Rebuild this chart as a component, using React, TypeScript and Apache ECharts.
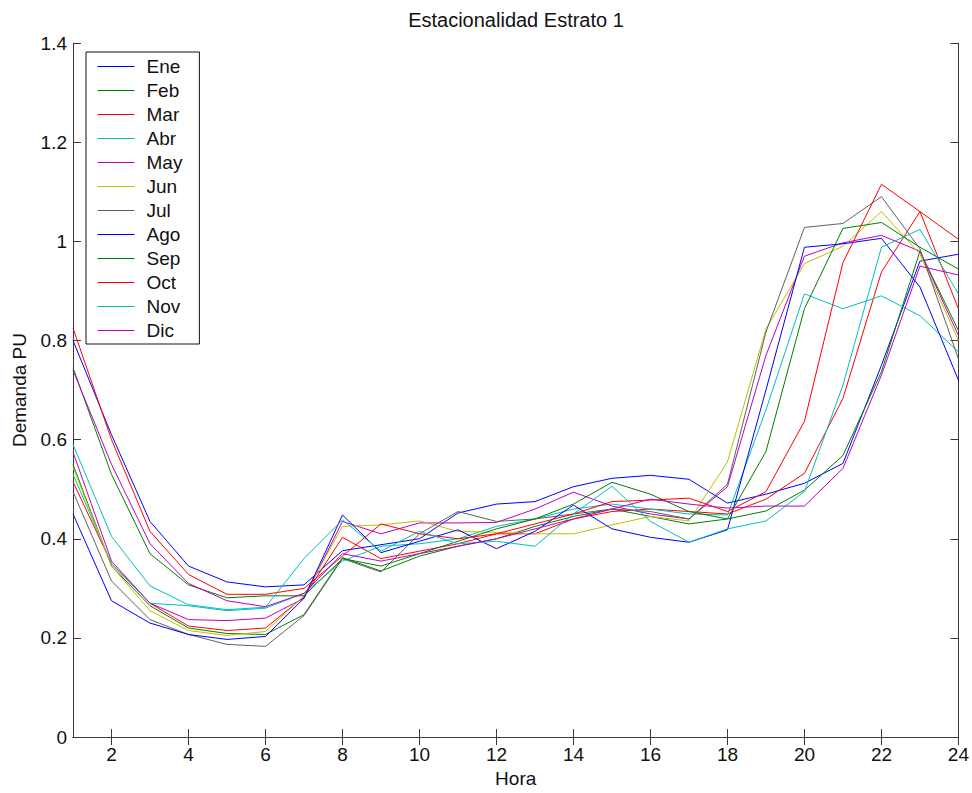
import React, { useEffect, useRef } from "react";
import * as echarts from "echarts";

// Hourly demand per unit, one curve per month
const hours = Array.from({ length: 24 }, (_, i) => String(i + 1));

const months = ["Ene", "Feb", "Mar", "Abr", "May", "Jun", "Jul", "Ago", "Sep", "Oct", "Nov", "Dic"];

const ene = [0.8, 0.61, 0.435, 0.345, 0.313, 0.303, 0.307, 0.376, 0.388, 0.4, 0.452, 0.47, 0.475, 0.505, 0.522, 0.528, 0.52, 0.472, 0.49, 0.512, 0.552, 0.75, 0.96, 0.974];
const feb = [0.55, 0.345, 0.265, 0.22, 0.209, 0.207, 0.247, 0.362, 0.335, 0.365, 0.385, 0.4, 0.425, 0.445, 0.46, 0.445, 0.43, 0.44, 0.456, 0.498, 0.568, 0.737, 0.98, 0.82];
const mar = [0.515, 0.35, 0.27, 0.224, 0.215, 0.22, 0.283, 0.403, 0.36, 0.375, 0.39, 0.41, 0.41, 0.44, 0.455, 0.46, 0.455, 0.45, 0.48, 0.532, 0.683, 0.938, 1.06, 0.864];
const abr = [0.53, 0.35, 0.27, 0.265, 0.255, 0.26, 0.29, 0.355, 0.385, 0.39, 0.4, 0.425, 0.44, 0.46, 0.47, 0.46, 0.45, 0.448, 0.66, 0.894, 0.864, 0.89, 0.85, 0.777];
const may = [0.575, 0.355, 0.27, 0.237, 0.235, 0.24, 0.28, 0.435, 0.41, 0.432, 0.432, 0.433, 0.46, 0.494, 0.466, 0.45, 0.44, 0.505, 0.77, 0.97, 0.997, 1.012, 0.98, 0.81];
const jun = [0.545, 0.345, 0.255, 0.215, 0.205, 0.213, 0.285, 0.425, 0.428, 0.436, 0.415, 0.413, 0.41, 0.41, 0.428, 0.445, 0.436, 0.555, 0.823, 0.955, 0.99, 1.06, 0.974, 0.8];
const jul = [0.495, 0.315, 0.237, 0.207, 0.187, 0.183, 0.245, 0.36, 0.333, 0.41, 0.455, 0.435, 0.44, 0.45, 0.46, 0.455, 0.44, 0.51, 0.817, 1.028, 1.036, 1.09, 0.985, 0.763];
const ago = [0.45, 0.275, 0.23, 0.207, 0.197, 0.203, 0.28, 0.448, 0.372, 0.395, 0.418, 0.38, 0.415, 0.468, 0.42, 0.403, 0.393, 0.418, 0.7, 0.988, 0.995, 1.006, 0.908, 0.72];
const sep = [0.745, 0.53, 0.37, 0.307, 0.281, 0.285, 0.285, 0.36, 0.345, 0.37, 0.395, 0.42, 0.44, 0.47, 0.514, 0.49, 0.455, 0.44, 0.576, 0.864, 1.026, 1.038, 0.988, 0.944];
const oct = [0.825, 0.6, 0.415, 0.328, 0.288, 0.288, 0.3, 0.365, 0.43, 0.41, 0.4, 0.41, 0.43, 0.45, 0.475, 0.478, 0.482, 0.455, 0.495, 0.637, 0.957, 1.115, 1.06, 1.004];
const nov = [0.59, 0.405, 0.305, 0.267, 0.257, 0.262, 0.36, 0.438, 0.375, 0.415, 0.39, 0.395, 0.385, 0.45, 0.506, 0.435, 0.393, 0.42, 0.436, 0.495, 0.71, 0.988, 1.024, 0.894];
const dic = [0.74, 0.55, 0.39, 0.31, 0.275, 0.263, 0.29, 0.37, 0.355, 0.37, 0.385, 0.4, 0.42, 0.44, 0.46, 0.48, 0.47, 0.462, 0.466, 0.466, 0.542, 0.73, 0.95, 0.932];

const monthValues = [ene, feb, mar, abr, may, jun, jul, ago, sep, oct, nov, dic];

// Classic plot colour cycle: b, g, r, c, m, y, k
const cycle = ["#0000ff", "#008000", "#ff0000", "#00bfbf", "#bf00bf", "#bfbf00", "#606060"];

const yTicks = { min: 0, max: 1.4, interval: 0.2 };

const FONT = "'Liberation Sans', Arial, Helvetica, sans-serif";
const AXIS_COLOR = "#3a3a3a";

export default function App() {
  const ref = useRef<HTMLDivElement>(null);

  useEffect(() => {
    document.body.style.margin = "0";
    if (!ref.current) return;
    const chart = echarts.init(ref.current, null, { renderer: "svg" });

    const evenHour = (idx: number) => idx % 2 === 1;

    const baseX = {
      type: "category" as const,
      data: hours,
      boundaryGap: false,
      axisLine: { show: true, lineStyle: { color: AXIS_COLOR, width: 1 } },
      axisTick: { show: true, inside: true, length: 8, interval: evenHour, lineStyle: { color: AXIS_COLOR } },
      splitLine: { show: false },
    };

    const baseY = {
      type: "value" as const,
      min: yTicks.min,
      max: yTicks.max,
      interval: yTicks.interval,
      axisLine: { show: true, lineStyle: { color: AXIS_COLOR, width: 1 } },
      axisTick: { show: true, inside: true, length: 8, lineStyle: { color: AXIS_COLOR } },
      splitLine: { show: false },
    };

    chart.setOption({
      animation: false,
      backgroundColor: "#ffffff",
      title: {
        text: "Estacionalidad Estrato 1",
        left: 511,
        top: 5,
        textAlign: "center",
        textStyle: { fontFamily: FONT, fontSize: 20, fontWeight: "normal", color: "#111" },
      },
      grid: { left: 73, right: 12, top: 43, bottom: 53, containLabel: false },
      legend: {
        orient: "vertical",
        left: 86,
        top: 52,
        data: months,
        itemWidth: 37,
        itemHeight: 13,
        itemGap: 5,
        padding: [5, 17, 4, 11],
        borderColor: "#111",
        borderWidth: 1,
        borderRadius: 0,
        backgroundColor: "#ffffff",
        selectedMode: false,
        // keep only the line sample, hide the marker in the middle of it
        itemStyle: { opacity: 0 },
        lineStyle: { width: 1 },
        textStyle: { fontFamily: FONT, fontSize: 19, lineHeight: 19, color: "#111", padding: [0, 0, 0, 7] },
      },
      xAxis: [
        {
          ...baseX,
          position: "bottom",
          name: "Hora",
          nameLocation: "middle",
          nameGap: 26,
          nameTextStyle: { fontFamily: FONT, fontSize: 19, color: "#111" },
          axisLabel: { show: true, interval: evenHour, margin: 8, fontFamily: FONT, fontSize: 19, color: "#111" },
        },
        { ...baseX, position: "top", axisLabel: { show: false } },
      ],
      yAxis: [
        {
          ...baseY,
          position: "left",
          name: "Demanda PU",
          nameLocation: "middle",
          nameGap: 44,
          nameTextStyle: { fontFamily: FONT, fontSize: 19, color: "#111" },
          axisLabel: {
            show: true,
            margin: 6,
            fontFamily: FONT,
            fontSize: 19,
            color: "#111",
            formatter: (v: number) => String(Number(v.toFixed(1))),
          },
        },
        { ...baseY, position: "right", axisLabel: { show: false } },
      ],
      series: months.map((m, i) => ({
        name: m,
        type: "line",
        xAxisIndex: 0,
        yAxisIndex: 0,
        data: monthValues[i],
        showSymbol: false,
        symbol: "none",
        lineStyle: { width: 1, color: cycle[i % cycle.length] },
        itemStyle: { color: cycle[i % cycle.length] },
        emphasis: { disabled: true },
      })),
    });

    return () => chart.dispose();
  }, []);

  return <div ref={ref} style={{ width: 972, height: 793 }} />;
}
